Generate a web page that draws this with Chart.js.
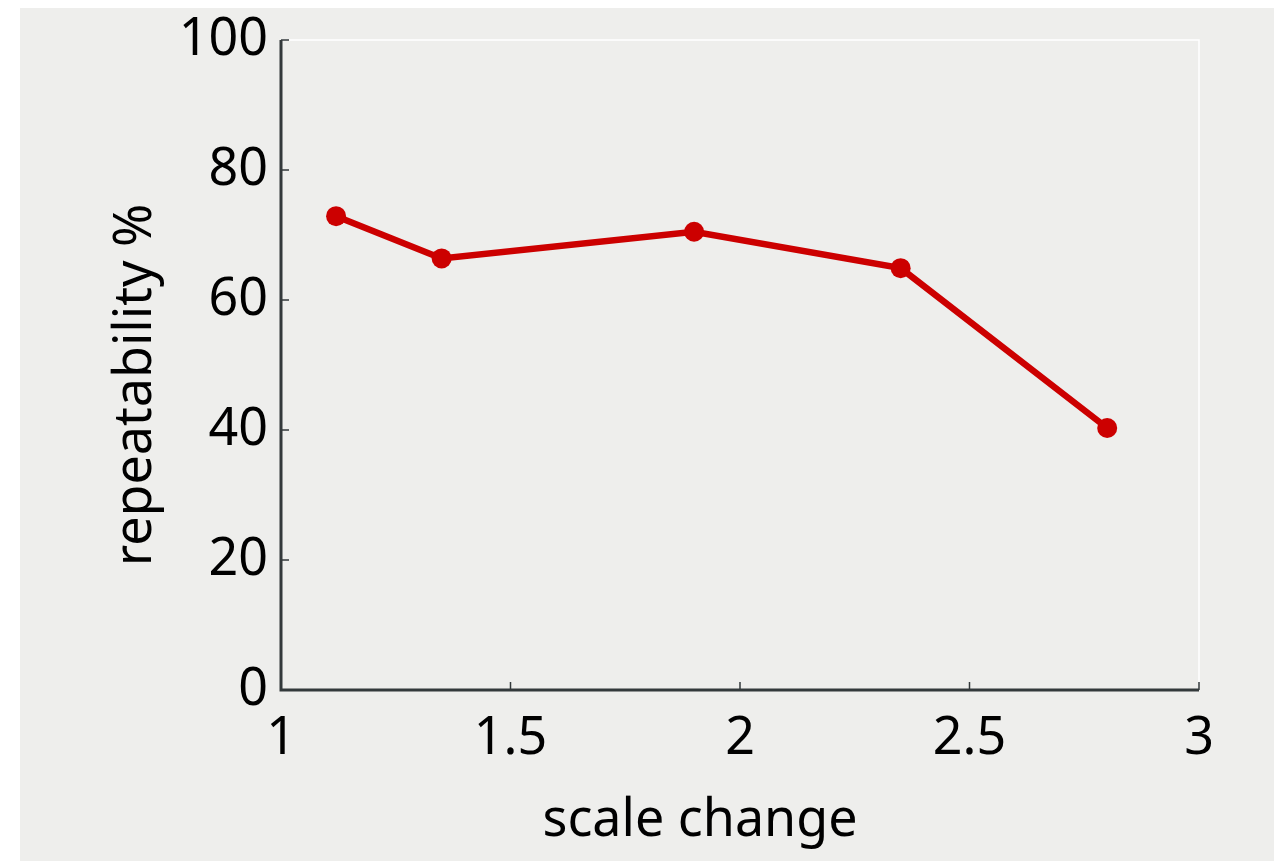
<!DOCTYPE html>
<html>
<head>
<meta charset="utf-8">
<title>repeatability vs scale change</title>
<script src="https://cdn.jsdelivr.net/npm/chart.js@4.4.1/dist/chart.umd.min.js"></script>
<style>
  html, body { margin: 0; padding: 0; background: #ffffff; }
  .panel {
    position: absolute;
    left: 20px;
    top: 8px;
    width: 1254px;
    height: 853px;
    background: #eeeeec;
  }
</style>
</head>
<body>
<div class="panel">
  <canvas id="myChart" width="1254" height="853"></canvas>
</div>
<script>
// data
const scaleChange = [1.12, 1.35, 1.9, 2.35, 2.8];
const repeatability = [72.9, 66.4, 70.5, 64.9, 40.3];

const xTicks = [1, 1.5, 2, 2.5, 3];
const yTicks = [0, 20, 40, 60, 80, 100];

const xTitle = 'scale change';
const yTitle = 'repeatability %';

const FONT = '"Noto Sans", "DejaVu Sans", sans-serif';
const axisColor = '#33393b';

// axes drawn by hand so the ticks can point inwards
const frame = {
  id: 'frame',
  beforeDatasetsDraw(chart) {
    const { ctx, chartArea: a, scales } = chart;
    ctx.save();
    // top / right: thin white box
    ctx.strokeStyle = '#ffffff';
    ctx.lineWidth = 1.5;
    ctx.beginPath();
    ctx.moveTo(a.left, a.top);
    ctx.lineTo(a.right, a.top);
    ctx.lineTo(a.right, a.bottom);
    ctx.stroke();

    ctx.strokeStyle = axisColor;
    ctx.lineWidth = 1.5;
    ctx.beginPath();
    yTicks.forEach(v => {
      const y = scales.y.getPixelForValue(v);
      ctx.moveTo(a.left, y);
      ctx.lineTo(a.left + 8, y);
    });
    xTicks.forEach(v => {
      const x = scales.x.getPixelForValue(v);
      ctx.moveTo(x, a.bottom);
      ctx.lineTo(x, a.bottom - 8);
    });
    ctx.stroke();

    ctx.lineWidth = 3;
    ctx.beginPath();
    ctx.moveTo(a.left, a.top);
    ctx.lineTo(a.left, a.bottom);
    ctx.lineTo(a.right, a.bottom);
    ctx.stroke();
    ctx.restore();
  },
  afterDraw(chart) {
    const { ctx } = chart;
    ctx.save();
    ctx.fillStyle = '#000000';
    ctx.font = '52px ' + FONT;
    ctx.textAlign = 'center';
    ctx.textBaseline = 'alphabetic';
    ctx.fillText(xTitle, 680, 828);

    ctx.translate(131, 377);
    ctx.rotate(-Math.PI / 2);
    ctx.fillText(yTitle, 0, 0);
    ctx.restore();
  }
};

new Chart(document.getElementById('myChart'), {
  type: 'scatter',
  data: {
    datasets: [
      {
        label: yTitle,
        data: scaleChange.map((x, i) => ({ x, y: repeatability[i] })),
        showLine: true,
        borderColor: '#cc0000',
        backgroundColor: '#cc0000',
        borderWidth: 6.5,
        pointRadius: 10,
        pointHoverRadius: 10,
        pointBorderWidth: 0,
      },
    ],
  },
  options: {
    responsive: false,
    animation: false,
    events: [],
    layout: { padding: { top: 32, right: 75, left: 0, bottom: 0 } },
    plugins: {
      legend: { display: false },
      tooltip: { enabled: false },
    },
    scales: {
      x: {
        type: 'linear',
        min: 1,
        max: 3,
        afterBuildTicks: s => { s.ticks = xTicks.map(v => ({ value: v })); },
        afterFit: s => { s.height = 171; s.paddingLeft = 0; s.paddingRight = 0; },
        grid: { display: false },
        border: { display: false },
        ticks: {
          padding: 10,
          color: '#000000',
          font: { family: FONT, size: 52 },
          callback: v => String(v),
        },
      },
      y: {
        type: 'linear',
        min: 0,
        max: 100,
        afterBuildTicks: s => { s.ticks = yTicks.map(v => ({ value: v })); },
        afterFit: s => { s.width = 261; s.paddingTop = 0; s.paddingBottom = 0; },
        grid: { display: false },
        border: { display: false },
        ticks: {
          padding: 5,
          color: '#000000',
          font: { family: FONT, size: 52 },
          callback: v => String(v),
        },
      },
    },
  },
  plugins: [frame],
});
</script>
</body>
</html>
